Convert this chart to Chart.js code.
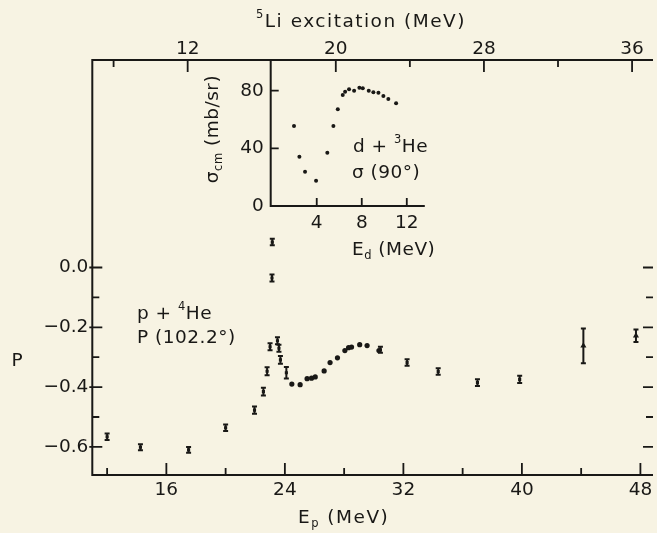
<!DOCTYPE html>
<html>
<head>
<meta charset="utf-8">
<script src="https://cdn.jsdelivr.net/npm/chart.js@4.4.1/dist/chart.umd.min.js"></script>
<style>
    html, body { margin: 0; padding: 0; background: #f7f3e3; overflow: hidden; }
    #wrap { position: relative; width: 657px; height: 533px; }
    #main-chart { position: absolute; left: 0; top: 0; }
    #inset-chart { position: absolute; left: 170px; top: 55px; }
</style>
</head>
<body>
<div id="wrap">
    <canvas id="main-chart" width="657" height="533"></canvas>
    <canvas id="inset-chart" width="270" height="215"></canvas>
</div>
<script>
// --- main panel: p + 4He analysing power ---
const epSmall = [12.0, 14.25, 17.5, 20.0, 21.95, 22.55, 22.8, 23.0, 23.13, 23.15, 23.5, 23.6, 23.7, 24.1, 30.45, 32.25, 34.35, 37.0, 39.85];
const pSmall = [-0.566, -0.601, -0.61, -0.536, -0.477, -0.415, -0.347, -0.265, -0.035, 0.085, -0.245, -0.27, -0.309, -0.352, -0.275, -0.318, -0.348, -0.385, -0.374];
const errSmall = [0.011, 0.01, 0.01, 0.011, 0.012, 0.013, 0.013, 0.012, 0.012, 0.011, 0.012, 0.012, 0.013, 0.019, 0.01, 0.011, 0.011, 0.011, 0.012];

const epDots = [24.47, 25.03, 25.5, 25.8, 26.05, 26.65, 27.05, 27.55, 28.05, 28.3, 28.5, 29.05, 29.55, 30.35];
const pDots = [-0.39, -0.392, -0.372, -0.37, -0.366, -0.346, -0.318, -0.302, -0.278, -0.268, -0.266, -0.258, -0.261, -0.278];

const epTri = [44.15, 47.7];
const pTri = [-0.262, -0.228];
const errTri = [0.058, 0.021];

const epMajorTicks = [16, 24, 32, 40, 48];
const epMinorTicks = [12, 20, 28, 36, 44];
const exMajorTicks = [12, 20, 28, 36];
const exMinorTicks = [8, 24, 32];
const pMajorTicks = [0, -0.2, -0.4, -0.6];
const pMinorTicks = [-0.1, -0.3, -0.5];
const pTickLabels = ['0.0', '\u22120.2', '\u22120.4', '\u22120.6'];

// --- inset: d + 3He cross section at 90 deg ---
const edInset = [1.98, 2.46, 2.96, 3.94, 4.94, 5.48, 5.87, 6.31, 6.52, 6.87, 7.32, 7.79, 8.09, 8.62, 9.03, 9.48, 9.92, 10.36, 11.05];
const sigInset = [55.5, 34.2, 23.8, 17.6, 37.0, 55.5, 67.1, 77.0, 79.3, 81.0, 80.0, 82.1, 81.7, 80.0, 78.9, 78.6, 76.3, 74.3, 71.3];
const edTicks = [4, 8, 12];
const sigTicks = [0, 40, 80];

const INK = '#191816';
const FONT = '"DejaVu Sans"';

function richText(ctx, parts, x, y, size, align) {
    ctx.save();
    ctx.textBaseline = 'middle';
    ctx.textAlign = 'left';
    let w = 0;
    parts.forEach(([t, k]) => {
        ctx.font = (k ? size * 0.62 : size) + 'px ' + FONT;
        w += ctx.measureText(t).width;
    });
    let cx = align === 'center' ? x - w / 2 : x;
    parts.forEach(([t, k]) => {
        ctx.font = (k ? size * 0.62 : size) + 'px ' + FONT;
        const dy = k === 'sup' ? -size * 0.4 : k === 'sub' ? size * 0.35 : 0;
        ctx.fillText(t, cx, y + dy);
        cx += ctx.measureText(t).width;
    });
    ctx.restore();
}

function tick(ctx, x1, y1, x2, y2) {
    ctx.moveTo(x1, y1);
    ctx.lineTo(x2, y2);
}

const errorBars = {
    id: 'errorBars',
    afterDatasetsDraw(chart) {
        const ctx = chart.ctx;
        const yScale = chart.scales.y;
        ctx.save();
        ctx.strokeStyle = INK;
        ctx.lineWidth = 2;
        chart.data.datasets.forEach((ds, di) => {
            if (!ds.errors) return;
            const meta = chart.getDatasetMeta(di);
            meta.data.forEach((pt, i) => {
                const e = ds.errors[i];
                const yTop = yScale.getPixelForValue(ds.data[i].y + e);
                const yBot = yScale.getPixelForValue(ds.data[i].y - e);
                ctx.beginPath();
                tick(ctx, pt.x, yTop, pt.x, yBot);
                tick(ctx, pt.x - 2.5, yTop, pt.x + 2.5, yTop);
                tick(ctx, pt.x - 2.5, yBot, pt.x + 2.5, yBot);
                ctx.stroke();
            });
        });
        ctx.restore();
    }
};

const mainAxes = {
    id: 'mainAxes',
    afterDraw(chart) {
        const { ctx, chartArea: a } = chart;
        const { x, x2, y } = chart.scales;
        ctx.save();
        ctx.strokeStyle = INK;
        ctx.fillStyle = INK;
        ctx.lineWidth = 2;
        ctx.beginPath();
        ctx.moveTo(a.right, a.top);
        ctx.lineTo(a.left, a.top);
        ctx.lineTo(a.left, a.bottom);
        ctx.lineTo(a.right, a.bottom);
        ctx.stroke();

        ctx.lineWidth = 1.8;
        ctx.beginPath();
        epMajorTicks.forEach(v => { const px = x.getPixelForValue(v); tick(ctx, px, a.bottom, px, a.bottom - 12); });
        epMinorTicks.forEach(v => { const px = x.getPixelForValue(v); tick(ctx, px, a.bottom, px, a.bottom - 7); });
        exMajorTicks.forEach(v => { const px = x2.getPixelForValue(v); tick(ctx, px, a.top, px, a.top + 12); });
        exMinorTicks.forEach(v => { const px = x2.getPixelForValue(v); tick(ctx, px, a.top, px, a.top + 7); });
        pMajorTicks.forEach(v => {
            const py = y.getPixelForValue(v);
            tick(ctx, a.left - 3, py, a.left + 10, py);
            tick(ctx, a.right, py, a.right - 10, py);
        });
        pMinorTicks.forEach(v => {
            const py = y.getPixelForValue(v);
            tick(ctx, a.left, py, a.left + 7, py);
            tick(ctx, a.right, py, a.right - 7, py);
        });
        ctx.stroke();

        ctx.font = '18.5px ' + FONT;
        ctx.textBaseline = 'middle';
        ctx.textAlign = 'center';
        epMajorTicks.forEach(v => ctx.fillText(String(v), x.getPixelForValue(v), 490));
        exMajorTicks.forEach(v => ctx.fillText(String(v), x2.getPixelForValue(v), 49));
        ctx.textAlign = 'right';
        pMajorTicks.forEach((v, i) => ctx.fillText(pTickLabels[i], a.left - 4, y.getPixelForValue(v)));
        ctx.textAlign = 'center';
        ctx.fillText('P', 17, 361);

        ctx.letterSpacing = '1.5px';
        richText(ctx, [['5', 'sup'], ['Li excitation (MeV)', '']], 361, 22, 18.5, 'center');
        richText(ctx, [['E', ''], ['p', 'sub'], [' (MeV)', '']], 298, 518, 18.5, 'left');
        ctx.letterSpacing = '0.5px';
        richText(ctx, [['p + ', ''], ['4', 'sup'], ['He', '']], 137, 314, 18.5, 'left');
        richText(ctx, [['P (102.2\u00b0)', '']], 137, 338, 18.5, 'left');
        ctx.restore();
    }
};

const insetAxes = {
    id: 'insetAxes',
    afterDraw(chart) {
        const { ctx, chartArea: a } = chart;
        const { x, y } = chart.scales;
        ctx.save();
        ctx.strokeStyle = INK;
        ctx.fillStyle = INK;
        ctx.lineWidth = 2;
        ctx.beginPath();
        ctx.moveTo(a.left, a.top);
        ctx.lineTo(a.left, a.bottom);
        ctx.lineTo(a.right, a.bottom);
        ctx.stroke();

        ctx.lineWidth = 1.8;
        ctx.beginPath();
        edTicks.forEach(v => { const px = x.getPixelForValue(v); tick(ctx, px, a.bottom, px, a.bottom - 8); });
        sigTicks.forEach(v => { const py = y.getPixelForValue(v); tick(ctx, a.left, py, a.left + 8, py); });
        ctx.stroke();

        ctx.font = '18.5px ' + FONT;
        ctx.textBaseline = 'middle';
        ctx.textAlign = 'center';
        edTicks.forEach(v => ctx.fillText(String(v), x.getPixelForValue(v), 168));
        ctx.textAlign = 'right';
        sigTicks.forEach(v => ctx.fillText(String(v), a.left - 7, y.getPixelForValue(v)));

        ctx.letterSpacing = '0.5px';
        richText(ctx, [['E', ''], ['d', 'sub'], [' (MeV)', '']], 182, 195, 18.5, 'left');
        richText(ctx, [['d + ', ''], ['3', 'sup'], ['He', '']], 183, 92, 18.5, 'left');
        richText(ctx, [['\u03c3 (90\u00b0)', '']], 182, 118, 18.5, 'left');

        ctx.translate(43, 74);
        ctx.rotate(-Math.PI / 2);
        richText(ctx, [['\u03c3', ''], ['cm', 'sub'], [' (mb/sr)', '']], 0, 0, 18.5, 'center');
        ctx.restore();
    }
};

new Chart(document.getElementById('main-chart'), {
    type: 'scatter',
    data: {
        datasets: [
            {
                data: epSmall.map((v, i) => ({ x: v, y: pSmall[i] })),
                errors: errSmall,
                pointStyle: 'rect', pointRadius: 2.2,
                backgroundColor: INK, borderColor: INK, borderWidth: 0
            },
            {
                data: epDots.map((v, i) => ({ x: v, y: pDots[i] })),
                pointStyle: 'circle', pointRadius: 2.6,
                backgroundColor: INK, borderColor: INK, borderWidth: 0
            },
            {
                data: epTri.map((v, i) => ({ x: v, y: pTri[i] })),
                errors: errTri,
                pointStyle: 'triangle', pointRadius: 3.5,
                backgroundColor: INK, borderColor: INK, borderWidth: 0
            }
        ]
    },
    options: {
        responsive: false,
        animation: false,
        events: [],
        layout: { padding: { left: 92.3, top: 60, right: 0, bottom: 58 } },
        plugins: { legend: { display: false }, tooltip: { enabled: false } },
        scales: {
            x: { type: 'linear', display: false, min: 11, max: 48.85 },
            x2: { type: 'linear', display: false, position: 'top', min: 6.85, max: 37.13 },
            y: { type: 'linear', display: false, min: -0.694, max: 0.694 }
        }
    },
    plugins: [errorBars, mainAxes]
});

new Chart(document.getElementById('inset-chart'), {
    type: 'scatter',
    data: {
        datasets: [{
            data: edInset.map((v, i) => ({ x: v, y: sigInset[i] })),
            pointStyle: 'circle', pointRadius: 2,
            backgroundColor: INK, borderColor: INK, borderWidth: 0
        }]
    },
    options: {
        responsive: false,
        animation: false,
        events: [],
        layout: { padding: { left: 100.7, top: 5, right: 15.2, bottom: 64 } },
        plugins: { legend: { display: false }, tooltip: { enabled: false } },
        scales: {
            x: { type: 'linear', display: false, min: -0.09, max: 13.6 },
            y: { type: 'linear', display: false, min: 0, max: 101.3 }
        }
    },
    plugins: [insetAxes]
});
</script>
</body>
</html>
